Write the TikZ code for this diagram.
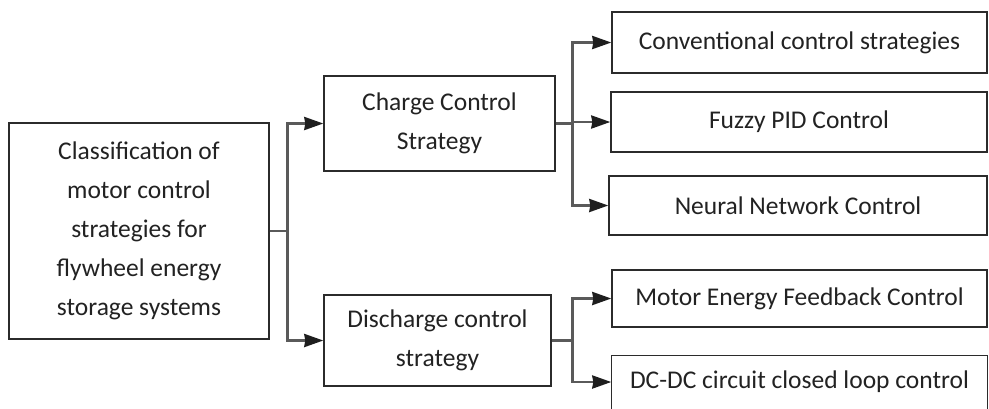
\documentclass[tikz,border=0pt]{standalone}
\usepackage{fontspec}
\setmainfont{Carlito}
\usetikzlibrary{arrows.meta,calc}
\definecolor{boxline}{HTML}{2B2B2B}
\definecolor{wire}{HTML}{5A5A5A}
\definecolor{tipfill}{HTML}{1E1E1E}
\definecolor{ink}{HTML}{222222}
\tikzset{
  x=1pt, y=-1pt,
  box/.style={draw=boxline, line width=1.4pt, fill=white, text=ink,
    align=center, inner sep=0pt,
    font=\fontsize{25.5}{39}\selectfont},
  openbox/.style={box, draw=none},
  conn/.style={draw=wire, line width=2.6pt,
    -{Stealth[length=19pt,width=13pt,inset=1pt,fill=tipfill,color=tipfill]}},
  trunk/.style={draw=wire, line width=2.6pt}
}
\begin{document}
\begin{tikzpicture}
\useasboundingbox (0,0) rectangle (989,408);
\clip (0,0) rectangle (989,408);

% root of the classification
\node[box, minimum width=260pt, minimum height=216pt] (root) at (139,231)
  {Classification of\\motor control\\strategies for\\flywheel energy\\storage systems};

% two strategy groups
\node[box, minimum width=231pt, minimum height=95pt] (charge) at (439.5,123.5)
  {Charge Control\\Strategy};
\node[box, minimum width=227pt, minimum height=91pt] (discharge) at (437.5,340.5)
  {Discharge control\\strategy};

% leaf methods
\node[box, minimum width=375pt, minimum height=61pt] (conv) at (799.5,42.5)
  {Conventional control strategies};
\node[box, minimum width=376pt, minimum height=60pt] (fuzzy) at (799,122)
  {Fuzzy PID Control};
\node[box, minimum width=378pt, minimum height=59pt] (neural) at (798,205.5)
  {Neural Network Control};
\node[box, minimum width=375pt, minimum height=57pt] (motor) at (799.5,298.5)
  {Motor Energy Feedback Control};
\node[openbox, minimum width=375pt, minimum height=52pt] (dcdc) at (799.5,382)
  {DC-DC circuit closed loop control};
\draw[boxline, line width=1.4pt] (dcdc.south west) -- (dcdc.north west)
  -- (dcdc.north east) -- (dcdc.south east);

% root to strategy groups
\coordinate (j0) at ($(root.east)+(18,0)$);
\draw[trunk] (root.east) -- (j0);
\draw[conn] (j0) |- (charge.west);
\draw[conn] (j0) |- (discharge.west);

% charge group to its methods
\coordinate (j1) at ($(charge.east)+(17,0)$);
\draw[trunk] (charge.east) -- (j1);
\draw[conn] (j1) |- (conv.west);
\draw[conn] (j1) |- (fuzzy.west);
\draw[conn] (j1) |- (neural.west);

% discharge group to its methods
\coordinate (j2) at ($(discharge.east)+(21,0)$);
\draw[trunk] (discharge.east) -- (j2);
\draw[conn] (j2) |- (motor.west);
\draw[conn] (j2) |- (dcdc.west);
\end{tikzpicture}
\end{document}
